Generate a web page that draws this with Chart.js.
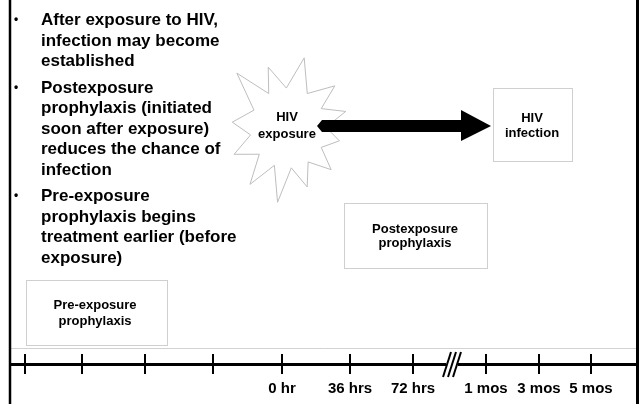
<!DOCTYPE html>
<html><head><meta charset="utf-8">
<style>html,body{margin:0;padding:0;background:#fff;overflow:hidden}canvas{display:block}</style>
<script src="https://cdn.jsdelivr.net/npm/chart.js@4/dist/chart.umd.min.js"></script>
</head><body>
<canvas id="c" width="639" height="404"></canvas>
<script>
// ---- data ----
const tickPositions = [25, 82, 145, 213, 282, 350, 413, 486, 539, 591];
const tickLabels = ['', '', '', '', '0 hr', '36 hrs', '72 hrs', '1 mos', '3 mos', '5 mos'];
const breakPosition = 452;
const timelineLevel = 364;
const bulletItems = [
  ['After exposure to HIV,', 'infection may become', 'established'],
  ['Postexposure', 'prophylaxis (initiated', 'soon after exposure)', 'reduces the chance of', 'infection'],
  ['Pre-exposure', 'prophylaxis begins', 'treatment earlier (before', 'exposure)']
];
const exposureLabel = ['HIV', 'exposure'];
const infectionLabel = ['HIV', 'infection'];
const postLabel = ['Postexposure', 'prophylaxis'];
const preLabel = ['Pre-exposure', 'prophylaxis'];

const FONT = '"Liberation Sans", Arial, Helvetica, sans-serif';

// ---- layout (diagram units) ----
const L = {
  frameLeft: 10, frameRight: 637.5, sepLine: 348.5,
  bullets: { x: 41, bx: 14, y0: 25, lh: 20.5, gap: 6 },
  star: { cx: 288, cy: 128 },
  arrow: { x0: 317, x1: 461, x2: 491, shaftTop: 120, shaftBot: 132, headTop: 110, headBot: 141 },
  infection: { x: 493.5, y: 88.5, w: 79, h: 73 },
  post: { x: 344.5, y: 203.5, w: 143, h: 65 },
  pre: { x: 26.5, y: 280.5, w: 141, h: 65 }
};
const starOuter = [[13,72],[48,63],[74,60],[104,53],[134,60],[162,62],[188,75],[214,68],[244,60],[276,56],[317,75],[342,64]];

const diagram = {
  id: 'diagram',
  beforeDatasetsDraw(chart) {
    const ctx = chart.ctx;
    const X = v => chart.scales.x.getPixelForValue(v);
    const Y = v => chart.scales.y.getPixelForValue(v);
    ctx.save();
    // separator line
    ctx.strokeStyle = '#d2d2d2'; ctx.lineWidth = 1;
    ctx.beginPath(); ctx.moveTo(X(10), Y(L.sepLine)); ctx.lineTo(X(637), Y(L.sepLine)); ctx.stroke();
    // frame
    ctx.strokeStyle = '#000';
    ctx.lineWidth = 2.5;
    ctx.beginPath(); ctx.moveTo(X(L.frameLeft), Y(0)); ctx.lineTo(X(L.frameLeft), Y(404)); ctx.stroke();
    ctx.lineWidth = 3;
    ctx.beginPath(); ctx.moveTo(X(L.frameRight), Y(0)); ctx.lineTo(X(L.frameRight), Y(404)); ctx.stroke();

    // boxes
    ctx.strokeStyle = '#cfcfcf'; ctx.lineWidth = 1;
    [L.infection, L.post, L.pre].forEach(b => {
      ctx.strokeRect(X(b.x), Y(b.y), X(b.x + b.w) - X(b.x), Y(b.y + b.h) - Y(b.y));
    });

    // star
    ctx.beginPath();
    starOuter.forEach((p, i) => {
      const a = p[0] * Math.PI / 180;
      const ox = L.star.cx + Math.sin(a) * p[1], oy = L.star.cy - Math.cos(a) * p[1];
      if (i === 0) ctx.moveTo(X(ox), Y(oy)); else ctx.lineTo(X(ox), Y(oy));
      const nxt = starOuter[(i + 1) % starOuter.length][0];
      let mid = (p[0] + (nxt < p[0] ? nxt + 360 : nxt)) / 2;
      const m = mid * Math.PI / 180;
      ctx.lineTo(X(L.star.cx + Math.sin(m) * 38), Y(L.star.cy - Math.cos(m) * 40));
    });
    ctx.closePath();
    ctx.fillStyle = '#fff'; ctx.fill();
    ctx.strokeStyle = '#bdbdbd'; ctx.lineWidth = 1; ctx.stroke();

    // arrow
    const A = L.arrow, mid = (A.shaftTop + A.shaftBot) / 2;
    ctx.beginPath();
    ctx.moveTo(X(A.x0), Y(mid));
    ctx.lineTo(X(A.x0 + 5), Y(A.shaftTop));
    ctx.lineTo(X(A.x1), Y(A.shaftTop));
    ctx.lineTo(X(A.x1), Y(A.headTop));
    ctx.lineTo(X(A.x2), Y(mid));
    ctx.lineTo(X(A.x1), Y(A.headBot));
    ctx.lineTo(X(A.x1), Y(A.shaftBot));
    ctx.lineTo(X(A.x0 + 5), Y(A.shaftBot));
    ctx.closePath();
    ctx.fillStyle = '#000'; ctx.fill();

    // texts
    ctx.fillStyle = '#000';
    ctx.textAlign = 'center'; ctx.textBaseline = 'middle';
    ctx.font = 'bold 13px ' + FONT;
    const two = (lines, cx, y1, y2) => { ctx.fillText(lines[0], X(cx), Y(y1)); ctx.fillText(lines[1], X(cx), Y(y2)); };
    two(exposureLabel, 287, 117, 134);
    two(infectionLabel, 532, 118, 133);
    two(postLabel, 415, 229, 243);
    two(preLabel, 95, 305, 321);

    // bullets
    ctx.textAlign = 'left'; ctx.textBaseline = 'alphabetic';
    let y = L.bullets.y0;
    bulletItems.forEach((para, pi) => {
      ctx.font = 'bold 12px ' + FONT;
      ctx.fillText('\u2022', X(L.bullets.bx), Y(y - 2));
      ctx.font = 'bold 17px ' + FONT;
      para.forEach(line => { ctx.fillText(line, X(L.bullets.x), Y(y)); y += L.bullets.lh; });
      y += L.bullets.gap;
    });
    ctx.restore();
  },
  afterDatasetsDraw(chart) {
    const ctx = chart.ctx;
    const X = v => chart.scales.x.getPixelForValue(v);
    const Y = v => chart.scales.y.getPixelForValue(v);
    ctx.save();
    ctx.fillStyle = '#fff';
    ctx.fillRect(X(breakPosition - 6), Y(timelineLevel - 2), X(breakPosition + 6) - X(breakPosition - 6), 5);
    ctx.strokeStyle = '#000'; ctx.lineWidth = 2;
    [-5, 0, 5].forEach(d => {
      ctx.beginPath();
      ctx.moveTo(X(breakPosition + d - 4), Y(timelineLevel + 13));
      ctx.lineTo(X(breakPosition + d + 4), Y(timelineLevel - 12));
      ctx.stroke();
    });
    ctx.restore();
  }
};

new Chart(document.getElementById('c'), {
  type: 'scatter',
  data: { datasets: [{
    data: tickPositions.map(p => ({ x: p, y: timelineLevel })),
    pointStyle: 'line', rotation: 90, radius: 10, hoverRadius: 10,
    borderColor: '#000', backgroundColor: '#000', borderWidth: 2
  }]},
  options: {
    responsive: false, animation: false, devicePixelRatio: 1, events: [],
    layout: { autoPadding: false, padding: { left: 10, right: 2, top: 0, bottom: 0 } },
    plugins: { legend: { display: false }, tooltip: { enabled: false } },
    scales: {
      x: {
        type: 'linear', min: 10, max: 637, position: { y: timelineLevel },
        afterBuildTicks: s => { s.ticks = tickPositions.map(v => ({ value: v })); },
        afterFit: s => { s.height = 0; },
        ticks: { autoSkip: false, maxRotation: 0, minRotation: 0, padding: 8, color: '#000',
                 font: { family: FONT, size: 15, weight: 'bold' },
                 callback: (v, i) => tickLabels[i] },
        grid: { display: false },
        border: { display: true, color: '#000', width: 3 }
      },
      y: { type: 'linear', min: 0, max: 404, reverse: true, display: false }
    }
  },
  plugins: [diagram]
});
</script>
</body></html>
